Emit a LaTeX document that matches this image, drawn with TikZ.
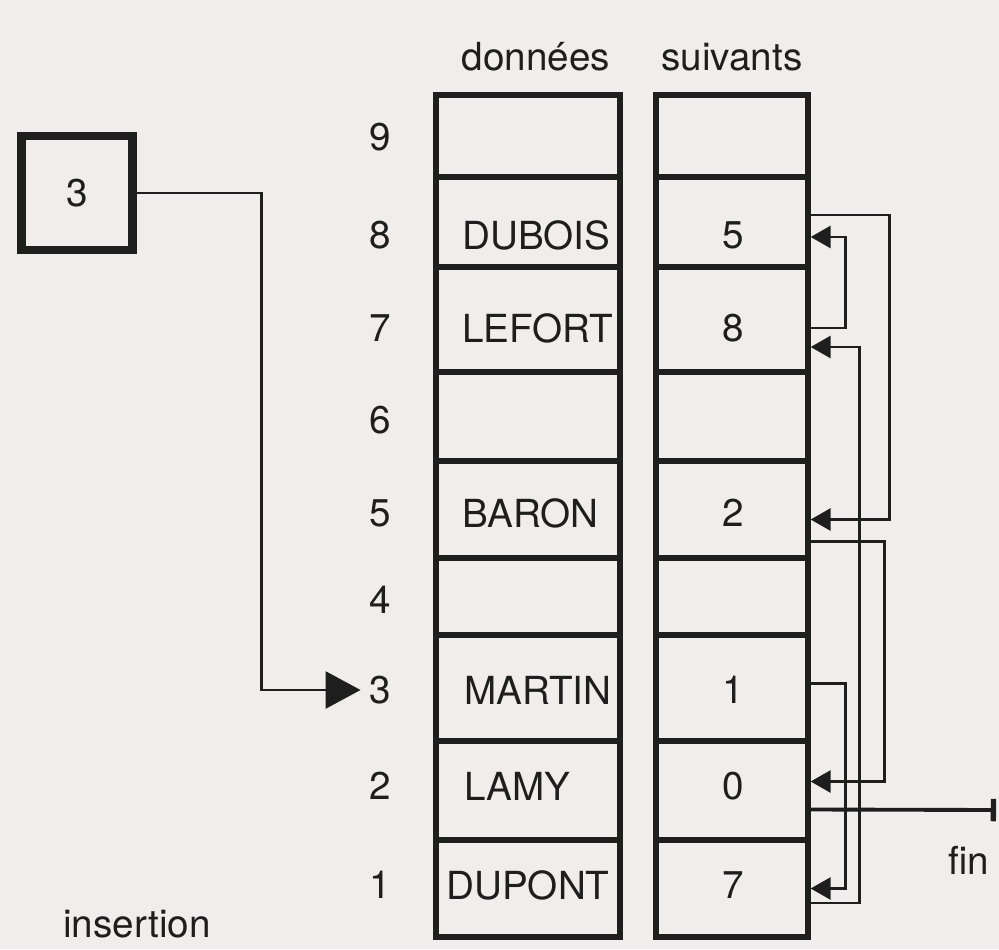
\documentclass[tikz,border=0pt]{standalone}
\usepackage{fontspec}
\setmainfont{TeX Gyre Heros}
\usepackage{xcolor}
\usepackage{tikz}
\usetikzlibrary{arrows.meta}
\definecolor{encre}{RGB}{30,30,30}
\definecolor{papier}{RGB}{242,237,237}

\begin{document}
\begin{tikzpicture}[x=0.02cm,y=-0.02cm,
  every node/.style={font=\fontsize{22}{26}\selectfont,text=encre},
  case/.style={draw=encre,line width=3pt,minimum width=#1,inner sep=0pt},
  lien/.style={draw=encre,line width=1.6pt,-{Triangle[length=4mm,width=4.4mm]}}]
  \fill[papier] (0,0) rectangle (999,949);
  \useasboundingbox (0,0) rectangle (999,949);

  % en-tetes
  \node (donnees) at (536,57) {données};
  \node (suivants) at (732,57) {suivants};

  % tableau
  \foreach \r/\t/\b/\ty/\xn/\nom/\suiv in {9/95/177/137/462/{}/{}, 8/177/267/235/462/DUBOIS/5,
      7/267/372/328/462/LEFORT/8, 6/372/461/420/462/{}/{}, 5/461/558/513/462/BARON/2,
      4/558/635/600/462/{}/{}, 3/635/741/690/464/MARTIN/1, 2/741/840/786/464/LAMY/0,
      1/840/937/885/446/DUPONT/7}{
    \node[case=3.68cm,minimum height={(\b-\t)*0.02cm}] (d\r) at (528,{(\t+\b)/2}) {};
    \node[case=3.04cm,minimum height={(\b-\t)*0.02cm}] (s\r) at (732,{(\t+\b)/2}) {};
    \node (l\r) at (380,\ty) {\r};
    \node[anchor=west,inner sep=0pt] (n\r) at (\xn,\ty) {\nom};
    \node (v\r) at (733,\ty) {\suiv};
  }

  % chainage
  \draw[lien] ([yshift=0.14cm]s8.east) -- ++(79,0) |- ([yshift=-0.2cm]s5.east);
  \draw[lien] ([yshift=-0.17cm]s7.east) -- ++(35,0) |- ([yshift=-0.3cm]s8.east);
  \draw[lien] ([yshift=-0.29cm]s1.east) -- ++(49,0) |- ([yshift=-0.55cm]s7.east);
  \draw[lien] ([yshift=-0.64cm]s5.east) -- ++(74,0) |- ([yshift=0.18cm]s2.east);
  \draw[lien] ([yshift=0.09cm]s3.east) -- ++(35,0) |- (s1.east);
  \coordinate (fin) at (996,810);
  \draw[encre,line width=2.2pt,-{Bar[width=4.5mm,line width=3pt]}] ([yshift=-0.38cm]s2.east) -- (fin);
  \node (labelfin) at (969,860) {fin};

  % insertion
  \node[draw=encre,line width=5pt,minimum width=2.22cm,minimum height=2.28cm] (boite) at (77,193) {3};
  \draw[encre,line width=1.6pt,-{Triangle[length=7mm,width=7.4mm]},shorten >=0.5mm]
    (boite.east) -- ++(125,0) |- (l3.west);
  \node (insertion) at (137,924) {insertion};
\end{tikzpicture}
\end{document}
